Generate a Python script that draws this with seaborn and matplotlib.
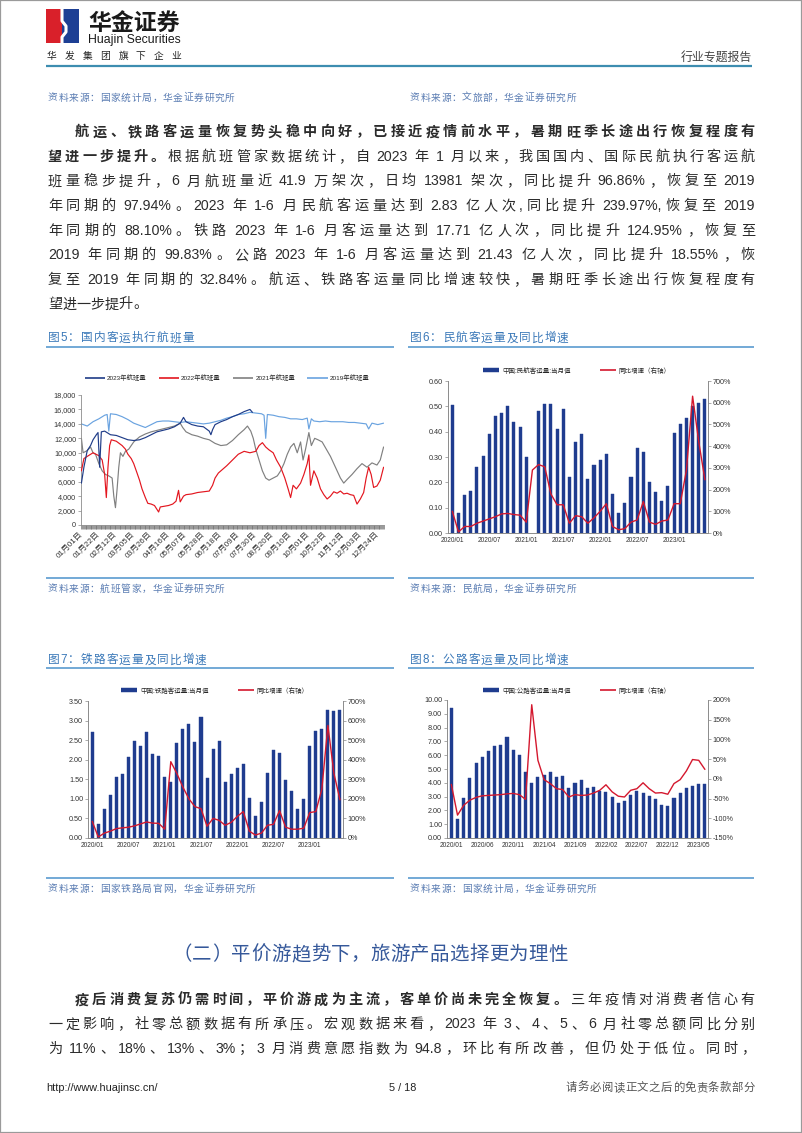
import numpy as np
import pandas as pd
import matplotlib
matplotlib.use("Agg")
import matplotlib.pyplot as plt
import seaborn as sns
from matplotlib.lines import Line2D
from matplotlib.patches import Rectangle
from matplotlib.ticker import FuncFormatter, MultipleLocator

# ---------------- data ----------------
months = ["2020/01", "2020/02", "2020/03", "2020/04", "2020/05", "2020/06", "2020/07", "2020/08",
          "2020/09", "2020/10", "2020/11", "2020/12", "2021/01", "2021/02", "2021/03", "2021/04",
          "2021/05", "2021/06", "2021/07", "2021/08", "2021/09", "2021/10", "2021/11", "2021/12",
          "2022/01", "2022/02", "2022/03", "2022/04", "2022/05", "2022/06", "2022/07", "2022/08",
          "2022/09", "2022/10", "2022/11", "2022/12", "2023/01", "2023/02", "2023/03", "2023/04",
          "2023/05", "2023/06"]

air_bars = [0.505, 0.08, 0.15, 0.165, 0.26, 0.305, 0.39, 0.46, 0.475, 0.50, 0.44, 0.42, 0.30, np.nan,
            0.48, 0.51, 0.51, 0.41, 0.49, 0.22, 0.36, 0.39, 0.215, 0.27, 0.29, 0.31, 0.155, 0.08,
            0.12, 0.22, 0.335, 0.32, 0.20, 0.16, 0.125, 0.185, 0.395, 0.43, 0.455, 0.50, 0.515, 0.53]
air_yoy = [100, 5, 30, 30, 45, 55, 65, 75, 88, 90, 85, 82, 50, 290, 315, 305, 180, 130, 130, 45,
           80, 75, 45, 70, 100, 135, 30, 15, 20, 50, 60, 145, 50, 40, 55, 60, 135, 135, 290, 630, 420, 245]

rail_bars = [2.71, 0.37, 0.75, 1.11, 1.56, 1.64, 2.07, 2.48, 2.34, 2.71, 2.15, 2.09, 1.56, 1.43,
             2.43, 2.79, 2.92, 2.45, 3.08, 1.53, 2.27, 2.47, 1.44, 1.64, 1.78, 1.89, 1.01, 0.57,
             0.93, 1.67, 2.25, 2.17, 1.47, 1.19, 0.74, 0.99, 2.35, 2.73, 2.79, 3.28, 3.25, 3.26]
rail_yoy = [85, 5, 25, 35, 48, 52, 55, 62, 72, 82, 76, 75, 45, 390, 330, 260, 200, 160, 150, 60,
            100, 90, 65, 80, 110, 135, 35, 15, 25, 65, 70, 140, 55, 45, 45, 50, 130, 135, 250, 575, 330, 195]

road_bars = [9.4, 1.4, 2.9, 4.35, 5.4, 5.9, 6.3, 6.65, 6.75, 7.3, 6.4, 6.05, 4.75, 3.95, 4.4, 4.55,
             4.8, 4.45, 4.5, 3.6, 4.0, 4.2, 3.6, 3.7, 3.4, 3.3, 2.95, 2.55, 2.65, 3.15, 3.4, 3.25,
             3.05, 2.8, 2.4, 2.35, 2.9, 3.25, 3.6, 3.8, 3.9, 3.9]
road_yoy = [-14, -92, -67, -54, -47, -43, -42, -41, -40, -38, -37, -40, -52, 188, 47, -2, -12, -25,
            -27, -46, -40, -42, -41, -36, -29, -15, -33, -44, -46, -29, -25, -10, -25, -36, -35, -39,
            -12, -2, 20, 49, 47, 24]

flight_ticks = ["01月01日", "01月22日", "02月12日", "03月05日", "03月26日", "04月16日", "05月07日",
                "05月28日", "06月18日", "07月09日", "07月30日", "08月20日", "09月10日", "10月01日",
                "10月22日", "11月12日", "12月03日", "12月24日"]

f2019_days = [0, 7, 14, 21, 28, 31, 33, 35, 42, 49, 56, 63, 70, 77, 84, 91, 98, 105, 112, 119, 126,
              133, 140, 147, 154, 161, 168, 175, 182, 189, 196, 203, 210, 217, 220, 222, 224, 231,
              238, 245, 252, 259, 266, 272, 274, 277, 280, 287, 294, 301, 308, 315, 322, 329, 336,
              343, 346, 350, 357, 364]
f2019_vals = [14000, 13700, 14300, 14700, 15200, 15300, 13000, 15400, 15300, 15000, 14600, 14100,
              13800, 13500, 13900, 14300, 14400, 14400, 14300, 14200, 14300, 14200, 14100, 14000,
              14100, 14300, 14500, 14800, 15000, 15300, 15400, 15600, 15500, 15400, 15200, 12000,
              15300, 15200, 15000, 14900, 14700, 14700, 14600, 14800, 13300, 14700, 14400, 14300,
              14400, 14300, 14300, 14300, 14200, 14200, 14100, 14000, 13300, 14100, 13900, 14100]

f2023_days = [0, 3, 7, 11, 14, 18, 20, 22, 24, 28, 35, 42, 49, 56, 63, 70, 77, 84, 91, 98, 105, 112,
              119, 123, 126, 133, 140, 147, 154, 156, 158, 161, 168, 175, 182, 189, 196, 203, 206]
f2023_vals = [5800, 8000, 10300, 11000, 11800, 12500, 12800, 8000, 12900, 13000, 12500, 12400, 12100,
              11800, 11700, 11800, 12100, 12500, 12900, 13100, 13300, 13600, 14100, 14900, 14300,
              13900, 13700, 13600, 13000, 12500, 13200, 13900, 14300, 14600, 15000, 15300, 15700,
              16000, 15600]

f2022_days = [0, 3, 7, 14, 21, 25, 28, 30, 32, 34, 36, 42, 49, 53, 56, 60, 63, 67, 70, 73, 77, 80, 84,
              88, 93, 95, 100, 105, 110, 114, 117, 119, 123, 126, 133, 140, 147, 154, 158, 161, 165,
              168, 175, 182, 189, 196, 203, 210, 214, 218, 222, 226, 231, 235, 240, 245, 249, 252,
              255, 259, 264, 268, 272, 274, 276, 280, 284, 288, 292, 296, 300, 304, 308, 312, 316,
              320, 324, 328, 332, 336, 340, 343, 346, 349, 352, 356, 360, 364]
f2022_vals = [7500, 9200, 9500, 10000, 9600, 9000, 7000, 3800, 8000, 11000, 11800, 11600, 11000,
              10500, 9800, 9200, 8500, 7200, 6200, 5000, 3800, 3000, 2900, 2700, 1800, 2500, 2600,
              2700, 2900, 3300, 4800, 3200, 4000, 4200, 4300, 4500, 4600, 4700, 5500, 6500, 7200,
              7500, 8200, 9000, 9800, 10200, 10000, 10200, 11000, 11400, 10800, 10400, 10000, 9000,
              8000, 6500, 5000, 3800, 5500, 5000, 5800, 7000, 8500, 9700, 5500, 7500, 6500, 5000,
              4200, 3600, 4000, 4600, 4400, 4700, 4300, 4400, 4200, 4100, 2900, 3600, 4500, 6500,
              8000, 7000, 5200, 5400, 6200, 8000]

f2021_days = [0, 2, 7, 11, 14, 17, 21, 25, 29, 33, 37, 39, 41, 43, 45, 47, 50, 53, 57, 63, 70, 77, 84,
              91, 98, 105, 112, 119, 122, 126, 133, 140, 147, 154, 161, 168, 175, 182, 189, 196, 200,
              204, 207, 210, 214, 218, 222, 226, 231, 236, 240, 244, 248, 252, 256, 260, 264, 267,
              270, 274, 277, 281, 285, 290, 295, 300, 304, 308, 312, 316, 320, 326, 332, 338, 344,
              350, 356, 360, 364]
f2021_vals = [12000, 10000, 10300, 10800, 10000, 9800, 8500, 7500, 7000, 6800, 6500, 4000, 2400, 5000,
              8000, 10000, 9500, 10200, 10500, 11500, 12200, 12600, 12900, 13100, 13300, 13500, 13700,
              14100, 13500, 12900, 12500, 12300, 12000, 11800, 11300, 11000, 11100, 11700, 12500,
              13200, 13700, 13000, 12000, 10500, 9000, 7500, 6500, 6200, 6500, 6800, 7500, 8500, 9800,
              10800, 11300, 10000, 11500, 9000, 10500, 12800, 11000, 12000, 11800, 11500, 10500, 9500,
              8500, 7500, 6500, 5800, 6300, 7000, 7800, 8500, 8000, 8600, 8300, 9000, 10800]

para1 = [
    [("航运、铁路客运量恢复势头稳中向好，已接近疫情前水平，暑期旺季长途出行恢复程度有", True)],
    [("望进一步提升。", True), ("根据航班管家数据统计，自 2023 年 1 月以来，我国国内、国际民航执行客运航", False)],
    [("班量稳步提升，6 月航班量近 41.9 万架次，日均 13981 架次，同比提升 96.86%，恢复至 2019", False)],
    [("年同期的 97.94%。2023 年 1-6 月民航客运量达到 2.83 亿人次,同比提升 239.97%,恢复至 2019", False)],
    [("年同期的 88.10%。铁路 2023 年 1-6 月客运量达到 17.71 亿人次，同比提升 124.95%，恢复至", False)],
    [("2019 年同期的 99.83%。公路 2023 年 1-6 月客运量达到 21.43 亿人次，同比提升 18.55%，恢", False)],
    [("复至 2019 年同期的 32.84%。航运、铁路客运量同比增速较快，暑期旺季长途出行恢复程度有", False)],
    [("望进一步提升。", False)],
]
para2 = [
    [("疫后消费复苏仍需时间，平价游成为主流，客单价尚未完全恢复。", True), ("三年疫情对消费者信心有", False)],
    [("一定影响，社零总额数据有所承压。宏观数据来看，2023 年 3、4、5、6 月社零总额同比分别", False)],
    [("为 11%、18%、13%、3%；3 月消费意愿指数为 94.8，环比有所改善，但仍处于低位。同时，", False)],
]

# ---------------- setup ----------------
sns.set_theme(style="ticks")
FAM = ["Liberation Sans", "Noto Sans CJK SC", "DejaVu Sans"]
plt.rcParams["font.family"] = FAM
plt.rcParams["axes.unicode_minus"] = False

W, H = 802, 1133
fig = plt.figure(figsize=(W / 100, H / 100), dpi=100)
fig.patch.set_facecolor("white")
renderer = fig.canvas.get_renderer()


def fx(x):
    return x / W


def fy(y):
    return 1 - y / H


def rect(l, t, r, b):
    return [l / W, 1 - b / H, (r - l) / W, (b - t) / H]


def hline(x0, x1, y, color, lw):
    fig.add_artist(Line2D([fx(x0), fx(x1)], [fy(y), fy(y)], transform=fig.transFigure,
                          color=color, lw=lw, solid_capstyle="butt"))


def tokenize(s):
    toks, buf = [], ""
    for ch in s:
        if ord(ch) < 128 and ch != " ":
            buf += ch
        else:
            if buf:
                toks.append(buf)
                buf = ""
            toks.append(ch)
    if buf:
        toks.append(buf)
    return toks


_cache = {}


def tok_width(t, size, weight):
    px = size * 100 / 72
    if t == " ":
        return 0.28 * px
    if ord(t[0]) >= 128:
        return px
    key = (t, size, weight)
    if key not in _cache:
        tt = fig.text(0, 0, t, fontsize=size, fontweight=weight, family=FAM)
        _cache[key] = tt.get_window_extent(renderer).width
        tt.remove()
    return _cache[key]


def put_line(segs, y, x0, x1=None, size=10.2, color="#2b2b2b", extra=0.0):
    # items: [token, weight, advance]; spaces are merged into the previous advance
    items = []
    for s, b in segs:
        w = "bold" if b else "normal"
        for t in tokenize(s):
            if t == " ":
                if items:
                    items[-1][2] += tok_width(" ", size, w)
                continue
            items.append([t, w, tok_width(t, size, w)])
    total = sum(it[2] for it in items)
    if x1 is not None and len(items) > 1:
        gap = (x1 - x0 - total) / (len(items) - 1)
    else:
        gap = extra
    base = y + 0.37 * size * 100 / 72
    x = x0
    for t, w, adv in items:
        fig.text(fx(x), fy(base), t, fontsize=size, fontweight=w, family=FAM,
                 color=color, ha="left", va="baseline")
        x += adv + gap


# ---------------- header ----------------
fig.add_artist(Rectangle((fx(46), fy(43)), 16 / W, 34 / H, transform=fig.transFigure,
                         color="#d9202a", lw=0))
fig.add_artist(Rectangle((fx(62), fy(43)), 17 / W, 34 / H, transform=fig.transFigure,
                         color="#1d3f94", lw=0))
fig.add_artist(Line2D([fx(62), fx(62), fx(66), fx(66), fx(62), fx(62)],
                      [fy(9), fy(21), fy(26), fy(32), fy(37), fy(43)],
                      transform=fig.transFigure, color="white", lw=2.2))
fig.text(fx(88), fy(31), "华金证券", fontsize=16.5, fontweight="bold", family=FAM,
         color="#1a1a1a", va="baseline")
fig.text(fx(88), fy(43), "Huajin Securities", fontsize=8.8, family=FAM, color="#1a1a1a",
         va="baseline")
for i, ch in enumerate("华发集团旗下企业"):
    fig.text(fx(47 + i * 17.8), fy(59), ch, fontsize=7, family=FAM, color="#222222", va="baseline")
fig.text(fx(752), fy(61), "行业专题报告", fontsize=8.6, family=FAM, color="#444444",
         ha="right", va="baseline")
hline(46, 752, 66, "#3d8db0", 1.6)

SRC = "#5b7db3"
put_line([("资料来源：国家统计局，华金证券研究所", False)], 97, 48, None, size=7.0, color=SRC, extra=0.7)
put_line([("资料来源：文旅部，华金证券研究所", False)], 97, 410, None, size=7.0, color=SRC, extra=0.7)

# ---------------- paragraph 1 ----------------
for i, segs in enumerate(para1):
    x0 = 75 if i == 0 else 48
    x1 = None if i == len(para1) - 1 else 755
    put_line(segs, 131 + i * 24.6, x0, x1, size=10.2)

# ---------------- figure titles & frames ----------------
TITLE = "#3a78b8"
LINEC = "#5a9bd0"
put_line([("图5：国内客运执行航班量", False)], 337, 48, None, size=8.4, color=TITLE, extra=1.0)
put_line([("图6：民航客运量及同比增速", False)], 337, 410, None, size=8.4, color=TITLE, extra=1.0)
put_line([("图7：铁路客运量及同比增速", False)], 659, 48, None, size=8.4, color=TITLE, extra=1.0)
put_line([("图8：公路客运量及同比增速", False)], 659, 410, None, size=8.4, color=TITLE, extra=1.0)
for y in (347, 578, 668, 878):
    hline(46, 394, y, LINEC, 1.2)
    hline(408, 754, y, LINEC, 1.2)
put_line([("资料来源：航班管家，华金证券研究所", False)], 588, 48, None, size=7.0, color=SRC, extra=0.7)
put_line([("资料来源：民航局，华金证券研究所", False)], 588, 410, None, size=7.0, color=SRC, extra=0.7)
put_line([("资料来源：国家铁路局官网，华金证券研究所", False)], 888, 48, None, size=7.0, color=SRC, extra=0.7)
put_line([("资料来源：国家统计局，华金证券研究所", False)], 888, 410, None, size=7.0, color=SRC, extra=0.7)

# ---------------- chart 5 ----------------
C23, C22, C21, C19 = "#1f3c88", "#e3161f", "#808080", "#6aa3e0"
ax5 = fig.add_axes(rect(81, 395, 384, 525))
for d, v, c, z in [(f2019_days, f2019_vals, C19, 1), (f2021_days, f2021_vals, C21, 2),
                   (f2022_days, f2022_vals, C22, 3), (f2023_days, f2023_vals, C23, 4)]:
    sns.lineplot(x=d, y=v, ax=ax5, color=c, linewidth=0.85, zorder=z)
ax5.set_xlim(-0.5, 364.5)
ax5.set_ylim(0, 18000)
ax5.yaxis.set_major_locator(MultipleLocator(2000))
ax5.yaxis.set_major_formatter(FuncFormatter(lambda v, p: f"{int(v):,}"))
ax5.set_xticks(np.arange(len(flight_ticks)) * 21)
ax5.set_xticklabels(flight_ticks, rotation=45, ha="right", va="center", rotation_mode="anchor")
ax5.set_xticks(np.arange(365), minor=True)
ax5.tick_params(axis="x", which="both", length=3, width=0.5, color="#707070", labelsize=5.8,
                labelcolor="#333333", pad=3)
ax5.tick_params(axis="y", length=2, width=0.5, color="#888888", labelsize=5.2, labelcolor="#333333",
                pad=1.5)
for s in ("top", "right"):
    ax5.spines[s].set_visible(False)
for s in ("left", "bottom"):
    ax5.spines[s].set_color("#8c8c8c")
    ax5.spines[s].set_linewidth(0.6)
ax5.set_xlabel("")
ax5.set_ylabel("")
h5 = [Line2D([], [], color=c, lw=1.2, solid_capstyle="butt") for c in (C23, C22, C21, C19)]
ax5.legend(h5, ["2023年航班量", "2022年航班量", "2021年航班量", "2019年航班量"], loc="center",
           bbox_to_anchor=(fx(227), fy(378)), bbox_transform=fig.transFigure, ncol=4, frameon=False,
           fontsize=4.6, handlelength=3.2, handletextpad=0.3, columnspacing=1.9, borderpad=0,
           borderaxespad=0)

# ---------------- bar + line charts ----------------
NAVY = "#1f3c8f"
RED = "#d4182e"


def bar_line(box, bars, yoy, ltop, lstep, rlo, rhi, rstep, xstep, label, lcx, lcy):
    ax = fig.add_axes(rect(*box))
    sns.barplot(x=months, y=bars, order=months, color=NAVY, saturation=1, width=0.5,
                errorbar=None, edgecolor=NAVY, linewidth=0.3, ax=ax)
    axr = ax.twinx()
    sns.lineplot(x=np.arange(len(months)), y=yoy, ax=axr, color=RED, linewidth=1.0)
    ax.set_xlim(-0.7, len(months) - 0.5)
    axr.set_xlim(-0.7, len(months) - 0.5)
    ax.set_ylim(0, ltop)
    ax.yaxis.set_major_locator(MultipleLocator(lstep))
    ax.yaxis.set_major_formatter(FuncFormatter(lambda v, p: f"{v:.2f}"))
    axr.set_ylim(rlo, rhi)
    axr.yaxis.set_major_locator(MultipleLocator(rstep))
    axr.yaxis.set_major_formatter(FuncFormatter(lambda v, p: f"{v:.0f}%"))
    pos = np.arange(0, len(months), xstep)
    ax.set_xticks(pos)
    ax.set_xticklabels([months[i] for i in pos])
    ax.tick_params(axis="x", length=0, labelsize=4.7, labelcolor="#333333", pad=3)
    ax.tick_params(axis="y", length=2, width=0.5, color="#888888", labelsize=5.2,
                   labelcolor="#333333", pad=1.5)
    axr.tick_params(axis="y", length=2, width=0.5, color="#888888", labelsize=5.2,
                    labelcolor="#333333", pad=1.5)
    for a in (ax, axr):
        a.set_xlabel("")
        a.set_ylabel("")
        a.spines["top"].set_visible(False)
        for s in ("left", "right", "bottom"):
            a.spines[s].set_color("#8c8c8c")
            a.spines[s].set_linewidth(0.6)
    handles = [Line2D([], [], color=NAVY, lw=3.2, solid_capstyle="butt"),
               Line2D([], [], color=RED, lw=1.2, solid_capstyle="butt")]
    axr.legend(handles, [label, "同比增速（右轴）"], loc="center",
               bbox_to_anchor=(fx(lcx), fy(lcy)), bbox_transform=fig.transFigure, ncol=2,
               frameon=False, fontsize=4.7, handlelength=2.5, handletextpad=0.4,
               columnspacing=4.5, borderpad=0, borderaxespad=0)
    return ax, axr


bar_line((448, 381, 708, 533), air_bars, air_yoy, 0.6, 0.1, 0, 700, 100, 6,
         "中国:民航客运量:当月值", 577, 371)
bar_line((88, 701, 343, 838), rail_bars, rail_yoy, 3.5, 0.5, 0, 700, 100, 6,
         "中国:铁路客运量:当月值", 215, 691)
bar_line((447, 700, 708, 838), road_bars, road_yoy, 10, 1, -150, 200, 50, 5,
         "中国:公路客运量:当月值", 577, 691)

# ---------------- section 2 ----------------
put_line([("（二）平价游趋势下，旅游产品选择更为理性", False)], 953, 172, 568, size=14,
         color="#35589a")
for i, segs in enumerate(para2):
    x0 = 75 if i == 0 else 48
    put_line(segs, 999 + i * 24.2, x0, 755, size=10.2)

# ---------------- footer ----------------
fig.text(fx(46), fy(1091), "http://www.huajinsc.cn/", fontsize=7.8, family=FAM, color="#222222",
         va="baseline")
fig.text(fx(403), fy(1091), "5 / 18", fontsize=7.8, family=FAM, color="#222222", ha="center",
         va="baseline")
put_line([("请务必阅读正文之后的免责条款部分", False)], 1087, 566, 755, size=8.2, color="#555555")

# page border
fig.add_artist(Rectangle((0, 0), 1, 1, transform=fig.transFigure, fill=False,
                         edgecolor="#9a9a9a", lw=1.6))

fig.savefig("out.png", dpi=100, facecolor="white")
